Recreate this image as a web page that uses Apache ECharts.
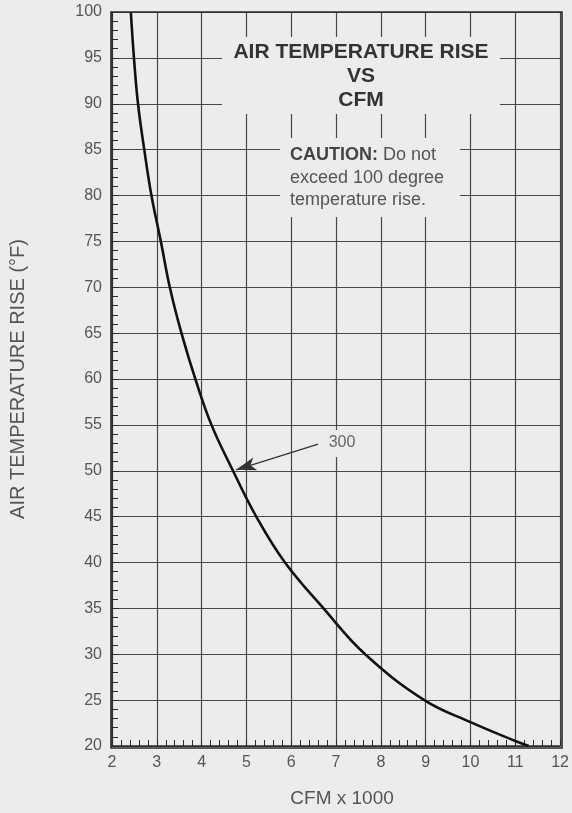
<!DOCTYPE html>
<html>
<head>
<meta charset="utf-8">
<script src="https://cdn.jsdelivr.net/npm/echarts@6/dist/echarts.min.js"></script>
<style>
  html, body { margin: 0; padding: 0; background: #ececec; }
  #chart { width: 572px; height: 813px; }
</style>
</head>
<body>
<div id="chart"></div>
<script>
// CFM x 1000
var cfm = [2.42, 2.49, 2.58, 2.72, 2.88, 3.09, 3.29, 3.55, 3.86, 4.22, 4.70, 5.22, 5.86, 6.72, 7.65, 8.97, 10.0, 11.0, 11.3];
// air temperature rise (°F)
var rise = [100, 95, 90, 85, 80, 75, 70, 65, 60, 55, 50, 45, 40, 35, 30, 25, 22.6, 20.55, 20];
var xTicks = [2, 3, 4, 5, 6, 7, 8, 9, 10, 11, 12];
var yTicks = [20, 25, 30, 35, 40, 45, 50, 55, 60, 65, 70, 75, 80, 85, 90, 95, 100];
// arrow for the "300" label (data space)
var arrowFrom = [6.6, 52.9];
var arrowTo = [4.77, 50.1];

var bg = "#ececec";
var ink = "#2b2b2b";
var gridInk = "#474747";
var labelInk = "#555";
var font = "Liberation Sans, Arial, sans-serif";

var chart = echarts.init(document.getElementById("chart"));
var option = {
  backgroundColor: bg,
  animation: false,
  textStyle: { fontFamily: font },
  grid: { left: 111, right: 10, top: 12, bottom: 65 },
  xAxis: {
    type: "value",
    min: xTicks[0],
    max: xTicks[xTicks.length - 1],
    interval: 1,
    name: "CFM x 1000",
    nameLocation: "middle",
    nameGap: 43,
    nameTextStyle: { color: labelInk, fontSize: 19, fontFamily: font, padding: [0, 0, 0, 12] },
    axisLine: { lineStyle: { color: ink, width: 1.6 } },
    axisTick: { inside: true, length: 6, lineStyle: { color: ink } },
    minorTick: { show: true, splitNumber: 5, length: 6, lineStyle: { color: ink } },
    axisLabel: { color: labelInk, fontSize: 16, margin: 9, fontFamily: font },
    splitLine: { show: true, lineStyle: { color: gridInk, width: 1.2 } }
  },
  yAxis: {
    type: "value",
    min: yTicks[0],
    max: yTicks[yTicks.length - 1],
    interval: 5,
    name: "AIR TEMPERATURE RISE (°F)",
    nameLocation: "middle",
    nameGap: 84,
    nameTextStyle: { color: labelInk, fontSize: 20, fontFamily: font },
    axisLine: { show: true, lineStyle: { color: ink, width: 1.6 } },
    axisTick: { show: true, inside: true, length: 7, lineStyle: { color: ink } },
    minorTick: { show: true, splitNumber: 5, length: 6, lineStyle: { color: ink } },
    axisLabel: { color: labelInk, fontSize: 16, margin: 10, fontFamily: font },
    splitLine: { show: true, lineStyle: { color: gridInk, width: 1.2 } }
  },
  graphic: [
    // frame on the top and right
    { type: "rect", z: 5, shape: { x: 111, y: 12, width: 451, height: 736 },
      style: { fill: null, stroke: ink, lineWidth: 1.6 } },
    // gaps in the grid behind the notes
    { type: "rect", z: 3, shape: { x: 222, y: 37, width: 278, height: 77 }, style: { fill: bg } },
    { type: "rect", z: 3, shape: { x: 280, y: 138, width: 180, height: 79 }, style: { fill: bg } },
    { type: "rect", z: 3, shape: { x: 320, y: 430, width: 42, height: 27 }, style: { fill: bg } },
    { type: "text", z: 4, x: 361, y: 40, style: {
      text: "AIR TEMPERATURE RISE\nVS\nCFM", align: "center", verticalAlign: "top",
      fill: "#333", font: "bold 21px " + font, lineHeight: 24 } },
    { type: "text", z: 4, x: 290, y: 144, style: {
      text: "{b|CAUTION:} Do not\nexceed 100 degree\ntemperature rise.",
      align: "left", verticalAlign: "top",
      fill: "#555", font: "18px " + font, lineHeight: 22.5,
      rich: { b: { fontWeight: "bold", fill: "#444", fontSize: 18, fontFamily: font } } } },
    { type: "text", z: 4, x: 342, y: 443, style: { text: "300", align: "center", verticalAlign: "middle",
      fill: "#666", font: "16px " + font } }
  ],
  series: [
    {
      type: "line",
      data: cfm.map(function (c, i) { return [c, rise[i]]; }),
      smooth: 0.4,
      symbol: "none",
      z: 4,
      lineStyle: { color: "#111", width: 2.6 },
      markLine: {
        silent: true,
        symbol: ["none", "arrow"],
        symbolSize: [10, 20],
        label: { show: false },
        lineStyle: { color: "#333", width: 1.3, type: "solid" },
        data: [[{ coord: arrowFrom }, { coord: arrowTo }]]
      }
    }
  ]
};
chart.setOption(option);
</script>
</body>
</html>
